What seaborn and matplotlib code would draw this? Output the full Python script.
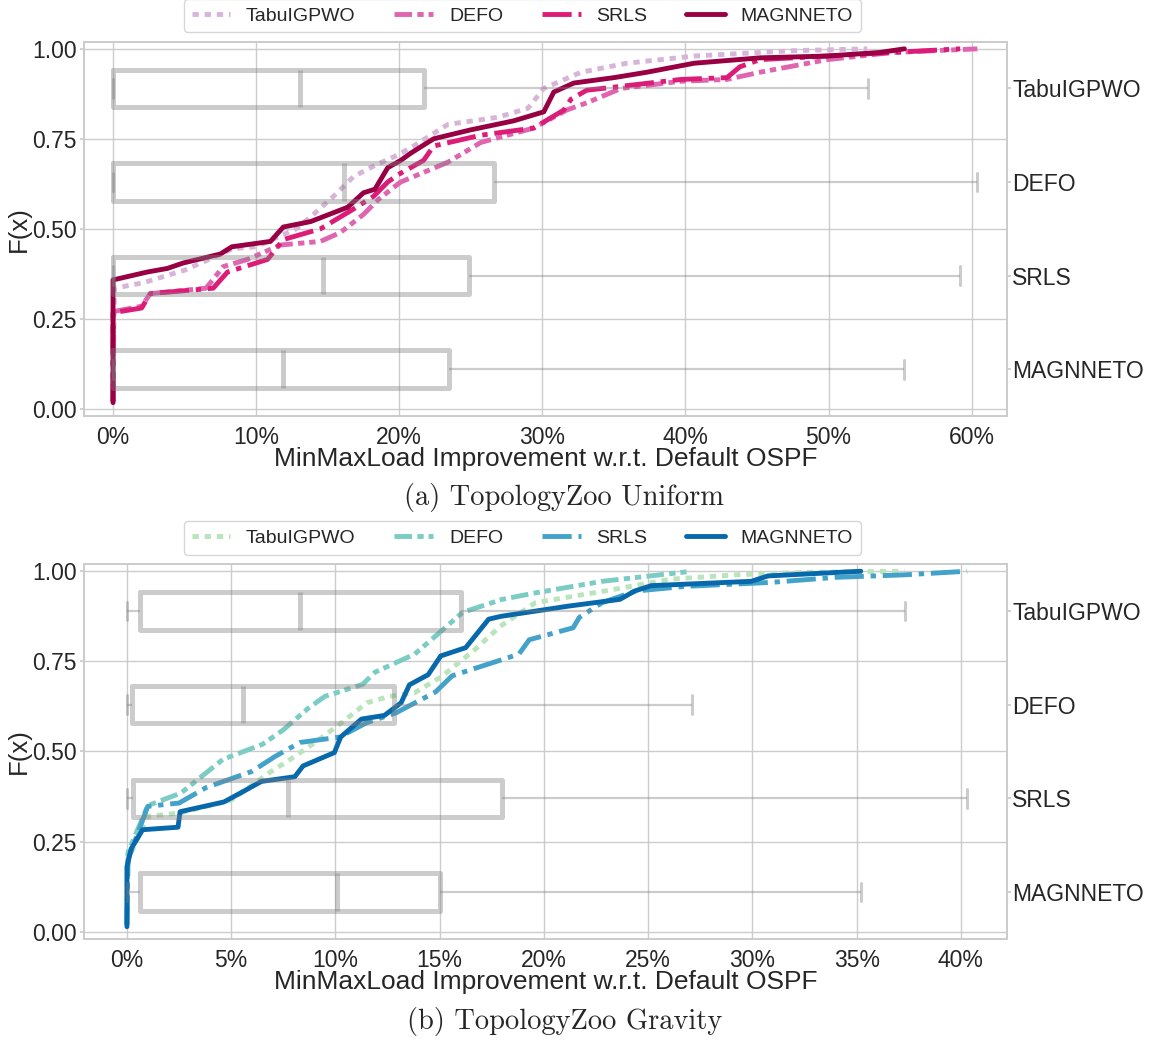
import numpy as np
import pandas as pd
import matplotlib
matplotlib.use("Agg")
import matplotlib.pyplot as plt
from matplotlib.lines import Line2D
from matplotlib.ticker import PercentFormatter, FormatStrFormatter
import seaborn as sns

methods = ["TabuIGPWO", "DEFO", "SRLS", "MAGNNETO"]

# ---------------- Panel (a): TopologyZoo Uniform (CDF points, % improvement) ----------------
a_tabu_x = [0, 0.1, 2.1, 5.0, 8.4, 10.0, 12.8, 14.0, 15.4, 16.8, 18.5, 19.9, 21.0, 23.4, 26.9, 29.0,
            30.1, 32.7, 35.9, 40.6, 47.6, 52.7]
a_tabu_F = [0.02, 0.335, 0.35, 0.385, 0.445, 0.45, 0.50, 0.54, 0.59, 0.645, 0.68, 0.705, 0.73, 0.79, 0.81,
            0.835, 0.89, 0.935, 0.96, 0.98, 0.995, 1.0]
a_defo_x = [0, 0, 2.0, 2.6, 6.5, 7.7, 9.4, 11.7, 14.5, 15.9, 17.5, 18.5, 19.6, 20.1, 23.4, 25.7, 29.4,
            31.7, 33.1, 35.5, 39.7, 42.9, 45.2, 49.9, 54.5, 60.4]
a_defo_F = [0.02, 0.27, 0.285, 0.32, 0.335, 0.395, 0.415, 0.455, 0.465, 0.49, 0.54, 0.58, 0.615, 0.63,
            0.685, 0.74, 0.78, 0.83, 0.85, 0.89, 0.91, 0.915, 0.935, 0.97, 0.99, 1.0]
a_srls_x = [0, 0, 2.0, 2.6, 7.0, 8.0, 10.8, 11.9, 14.5, 16.6, 18.2, 19.2, 19.9, 21.7, 22.4, 25.7, 29.4,
            31.5, 32.0, 33.1, 39.7, 42.9, 43.8, 45.2, 54.5, 59.2]
a_srls_F = [0.02, 0.267, 0.28, 0.32, 0.335, 0.38, 0.415, 0.47, 0.50, 0.55, 0.59, 0.63, 0.65, 0.69, 0.73,
            0.76, 0.78, 0.83, 0.86, 0.885, 0.915, 0.92, 0.95, 0.97, 0.99, 1.0]
a_magn_x = [0, 0, 2.4, 3.8, 4.9, 7.5, 8.3, 11.0, 11.9, 13.8, 16.4, 17.5, 18.3, 19.2, 20.1, 20.8, 22.4,
            25.0, 28.0, 30.1, 30.8, 32.2, 35.0, 37.3, 40.6, 45.2, 49.9, 53.6, 55.3]
a_magn_F = [0.017, 0.358, 0.38, 0.39, 0.405, 0.43, 0.45, 0.465, 0.505, 0.52, 0.56, 0.60, 0.61, 0.67, 0.69,
            0.71, 0.75, 0.775, 0.80, 0.825, 0.88, 0.905, 0.92, 0.935, 0.96, 0.975, 0.98, 0.99, 1.0]
# box summary: min, q1, median, q3, max
a_box_tabu = [0, 0, 13.05, 21.75, 52.75]
a_box_defo = [0, 0, 16.15, 26.6, 60.4]
a_box_srls = [0, 0, 14.66, 24.85, 59.2]
a_box_magn = [0, 0, 11.9, 23.45, 55.3]

# ---------------- Panel (b): TopologyZoo Gravity ----------------
b_tabu_x = [0, 0.05, 1.0, 2.6, 5.0, 6.8, 7.8, 9.1, 10.3, 11.5, 12.6, 13.8, 15.1, 16.7, 17.9, 19.6,
            22.8, 26.1, 29.2, 32.5, 37.3]
b_tabu_F = [0.02, 0.2, 0.32, 0.33, 0.365, 0.44, 0.477, 0.528, 0.58, 0.635, 0.653, 0.663, 0.708, 0.783,
            0.847, 0.913, 0.944, 0.978, 0.99, 0.997, 1.0]
b_defo_x = [0, 0.05, 1.0, 2.6, 3.5, 4.6, 6.5, 7.5, 8.7, 9.5, 11.3, 11.9, 13.8, 15.0, 16.1, 18.0, 19.6,
            22.8, 27.1]
b_defo_F = [0.02, 0.22, 0.35, 0.385, 0.427, 0.478, 0.52, 0.56, 0.62, 0.653, 0.686, 0.72, 0.77, 0.83,
            0.886, 0.922, 0.94, 0.972, 1.0]
b_srls_x = [0, 0.05, 1.0, 2.5, 3.8, 6.0, 7.1, 8.3, 10.2, 11.5, 12.9, 14.8, 15.6, 18.8, 19.3, 21.4, 21.7,
            22.8, 24.4, 26.8, 30.9, 34.0, 37.3, 40.3]
b_srls_F = [0.02, 0.2, 0.348, 0.357, 0.40, 0.445, 0.486, 0.525, 0.54, 0.58, 0.607, 0.665, 0.71, 0.77,
            0.81, 0.843, 0.872, 0.913, 0.945, 0.958, 0.969, 0.983, 0.99, 1.0]
b_magn_x = [0, 0, 0.2, 0.75, 2.45, 2.55, 4.65, 5.45, 6.45, 8.05, 8.45, 9.95, 10.25, 11.25, 12.35, 13.15,
            13.55, 14.45, 15.05, 16.25, 17.35, 17.95, 21.15, 23.65, 24.35, 25.15, 29.95, 30.75, 35.2]
b_magn_F = [0.014, 0.18, 0.23, 0.283, 0.29, 0.333, 0.36, 0.385, 0.417, 0.43, 0.46, 0.497, 0.54, 0.59,
            0.60, 0.635, 0.685, 0.713, 0.765, 0.788, 0.867, 0.875, 0.903, 0.922, 0.945, 0.96, 0.972,
            0.987, 1.0]
b_box_tabu = [0, 0.64, 8.3, 16.03, 37.3]
b_box_defo = [0, 0.22, 5.58, 12.8, 27.08]
b_box_srls = [0, 0.27, 7.74, 18.0, 40.28]
b_box_magn = [0, 0.64, 10.07, 15.0, 35.2]

palette_a = ["#d7b5d8", "#df65b0", "#dd1c77", "#980043"]
palette_b = ["#bae4bc", "#7bccc4", "#43a2ca", "#0868ac"]
dash_styles = {
    "TabuIGPWO": (1.3, 1.2),
    "DEFO": (3.6, 1.1, 1.3, 1.0, 1.3, 1.1),
    "SRLS": (6.0, 1.4, 1.1, 1.4),
    "MAGNNETO": "",
}

sns.set_theme(style="whitegrid")
plt.rcParams["font.family"] = ["Liberation Sans", "DejaVu Sans"]
plt.rcParams["lines.solid_capstyle"] = "round"

fig = plt.figure(figsize=(11.52, 10.41), dpi=100)
LW = 3.5


def make_panel(rect, xs, Fs, boxes, palette, xlim, xticks, caption, cap_y):
    ax = fig.add_axes(rect)
    frames = []
    for m, x, F in zip(methods, xs, Fs):
        frames.append(pd.DataFrame({"x": x, "F": F, "method": m}))
    df = pd.concat(frames, ignore_index=True)
    sns.lineplot(data=df, x="x", y="F", hue="method", style="method", hue_order=methods,
                 style_order=methods, palette=palette, dashes=dash_styles, sort=False,
                 estimator=None, linewidth=LW, legend=False, ax=ax)
    ax.set_ylim(-0.02, 1.02)
    ax.set_yticks([0, 0.25, 0.5, 0.75, 1.0])
    ax.yaxis.set_major_formatter(FormatStrFormatter("%.2f"))
    ax.set_xticks(xticks)
    ax.xaxis.set_major_formatter(PercentFormatter(100, decimals=0))
    ax.tick_params(axis="both", labelsize=16.5)
    ax.tick_params(axis="x", pad=1)
    ax.tick_params(axis="y", left=True, length=3, color=".8", pad=2)
    ax.set_xlabel("MinMaxLoad Improvement w.r.t. Default OSPF", fontsize=19, labelpad=-1)
    ax.set_ylabel("F(x)", fontsize=18.5, labelpad=1)

    ax2 = ax.twinx()
    bdf = pd.DataFrame({"method": np.repeat(methods, 5), "val": np.concatenate(boxes)})
    sns.boxplot(data=bdf, x="val", y="method", order=methods, orient="h", whis=(0, 100),
                fill=False, color="gray", width=0.4, linewidth=3.6, showfliers=False,
                whiskerprops={"linewidth": 1.6}, capprops={"linewidth": 2.2}, ax=ax2)
    for ln in ax2.lines:
        ln.set_alpha(0.4)
    ax2.set_ylim(3.5, -0.5)
    ax2.grid(False)
    ax2.set_ylabel("")
    ax2.set_xlabel("")
    ax2.tick_params(axis="y", labelsize=16.5, right=True, length=3, color=".8", pad=1)
    ax.set_xlim(*xlim)

    handles = [Line2D([], [], color=c, lw=LW, dashes=dash_styles[m])
               if dash_styles[m] else Line2D([], [], color=c, lw=LW, solid_capstyle="round")
               for m, c in zip(methods, palette)]
    ax.legend(handles, methods, loc="lower center", bbox_to_anchor=(0.475, 1.025), ncol=4,
              fontsize=14, frameon=True, handlelength=2.0, handletextpad=0.8, columnspacing=2.0,
              borderaxespad=0, borderpad=0.4, fancybox=True)
    fig.text(0.49, cap_y, caption, ha="center", va="center", family="cmr10", fontsize=20.5)
    return ax


make_panel([0.0729, 0.6004, 0.8010, 0.3596],
           [a_tabu_x, a_defo_x, a_srls_x, a_magn_x],
           [a_tabu_F, a_defo_F, a_srls_F, a_magn_F],
           [a_box_tabu, a_box_defo, a_box_srls, a_box_magn],
           palette_a, (-2.03, 62.45), np.arange(0, 61, 10), "(a) TopologyZoo Uniform", 1 - 497 / 1041)
make_panel([0.0729, 0.098, 0.8010, 0.3602],
           [b_tabu_x, b_defo_x, b_srls_x, b_magn_x],
           [b_tabu_F, b_defo_F, b_srls_F, b_magn_F],
           [b_box_tabu, b_box_defo, b_box_srls, b_box_magn],
           palette_b, (-2.06, 42.2), np.arange(0, 41, 5), "(b) TopologyZoo Gravity", 1 - 1021 / 1041)

fig.savefig("out.png", dpi=100)
